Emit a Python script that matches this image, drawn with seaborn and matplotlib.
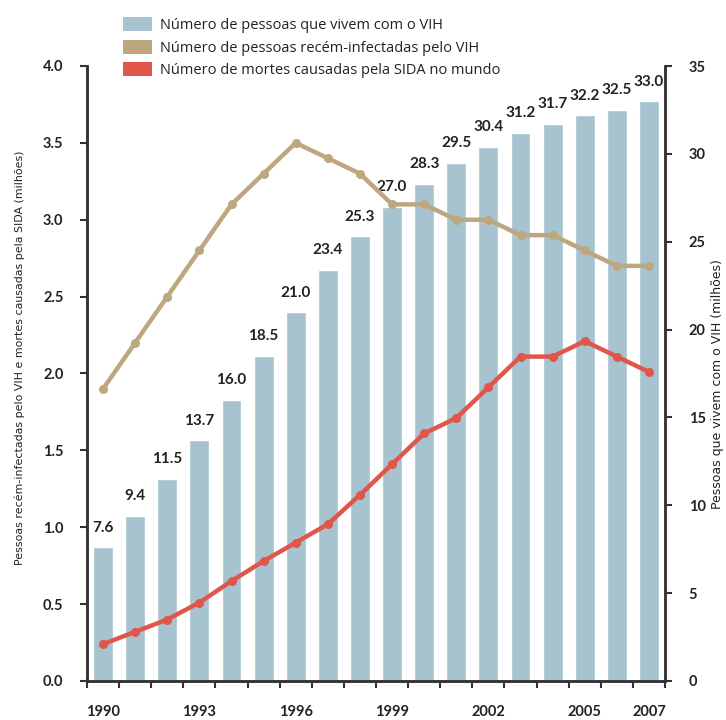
import numpy as np
import pandas as pd
import matplotlib
matplotlib.use("Agg")
import matplotlib.pyplot as plt
from matplotlib.patches import Patch
import seaborn as sns

# Data (millions)
years = [1990, 1991, 1992, 1993, 1994, 1995, 1996, 1997, 1998, 1999,
         2000, 2001, 2002, 2003, 2004, 2005, 2006, 2007]
living_with_hiv = [7.6, 9.4, 11.5, 13.7, 16.0, 18.5, 21.0, 23.4, 25.3, 27.0,
                   28.3, 29.5, 30.4, 31.2, 31.7, 32.2, 32.5, 33.0]
new_infections = [1.9, 2.2, 2.5, 2.8, 3.1, 3.3, 3.5, 3.4, 3.3, 3.1,
                  3.1, 3.0, 3.0, 2.9, 2.9, 2.8, 2.7, 2.7]
aids_deaths = [0.24, 0.32, 0.40, 0.51, 0.65, 0.78, 0.90, 1.02, 1.21, 1.41,
               1.61, 1.71, 1.91, 2.11, 2.11, 2.21, 2.11, 2.01]
year_labels = [1990, 1993, 1996, 1999, 2002, 2005, 2007]

legend_labels = ["Número de pessoas que vivem com o VIH",
                 "Número de pessoas recém-infectadas pelo VIH",
                 "Número de mortes causadas pela SIDA no mundo"]
left_label = "Pessoas recém-infectadas pelo VIH e mortes causadas pela SIDA (milhões)"
right_label = "Pessoas que vivem com o VIH (milhões)"

BLUE = "#a6c3cf"
TAN = "#bca77f"
RED = "#e0564a"
INK = "#222222"
SPINE = "#333333"

sns.set_theme(style="white")
plt.rcParams["font.family"] = ["Lato", "DejaVu Sans"]

df = pd.DataFrame({"year": years, "living": living_with_hiv,
                   "new": new_infections, "deaths": aids_deaths})

fig = plt.figure(figsize=(7.26, 7.2), dpi=100)
ax = fig.add_axes([87 / 726, 1 - 681 / 720, (665 - 87) / 726, (681 - 66) / 720])
ax2 = ax.twinx()

# Bars on the bottom axes, scale shown on the right
sns.barplot(data=df, x="year", y="living", native_scale=True, color=BLUE,
            width=0.62, saturation=1, ax=ax, zorder=1)
ax.set_ylim(0, 35)
ax.set_yticks(np.arange(0, 36, 5))
ax.bar_label(ax.containers[0], labels=[f"{v:.1f}" for v in living_with_hiv],
             padding=9, fontsize=11, fontweight="bold", color=INK)

# Lines on the twin axes, scale shown on the left
sns.lineplot(data=df, x="year", y="new", color=TAN, lw=3.2, marker="o",
             markersize=6.5, markeredgewidth=0, ax=ax2)
sns.lineplot(data=df, x="year", y="deaths", color=RED, lw=3.2, marker="o",
             markersize=6.5, markeredgewidth=0, ax=ax2)
ax2.set_ylim(0, 4.0)
ax2.set_yticks(np.arange(0, 4.01, 0.5))
ax2.set_yticklabels([f"{v:.1f}" for v in np.arange(0, 4.01, 0.5)])

# Swap sides: bar scale on the right, line scale on the left
ax.yaxis.tick_right()
ax2.yaxis.tick_left()

for a in (ax, ax2):
    a.set_xlim(years[0] - 0.5, years[-1] + 0.5)
    a.set_xlabel("")
    a.set_ylabel("")
    a.grid(False)
    for s in a.spines.values():
        s.set_color(SPINE)
        s.set_linewidth(1.8)
    a.spines["top"].set_visible(False)

# Category boundary ticks with labels centred on selected years
ax.set_xticks(np.arange(years[0] - 0.5, years[-1] + 0.51, 1.0))
ax.set_xticklabels([])
ax.set_xticks(year_labels, minor=True)
ax.set_xticklabels([str(y) for y in year_labels], minor=True)
ax.tick_params(axis="x", which="major", direction="out", length=5, width=1.5,
               color=SPINE, bottom=True)
ax.tick_params(axis="x", which="minor", length=0, pad=17,
               labelsize=10.5, labelcolor=INK)
for t in ax.get_xticklabels(minor=True):
    t.set_fontweight("bold")
ax2.tick_params(axis="x", which="both", bottom=False, labelbottom=False)

ax.tick_params(axis="y", direction="out", length=5, width=1.5, color=SPINE,
               right=True, left=False, labelright=True, labelleft=False,
               pad=12, labelsize=10.5, labelcolor=INK)
ax2.tick_params(axis="y", direction="out", length=5, width=1.5, color=SPINE,
                left=True, right=False, labelleft=True, labelright=False,
                pad=12, labelsize=10.5, labelcolor=INK)
for t in ax.get_yticklabels() + ax2.get_yticklabels():
    t.set_fontweight("bold")

# Axis titles
narrow = ["DejaVu Sans Condensed", "Liberation Sans Narrow", "DejaVu Sans"]
fig.text(20 / 726, 1 - 358 / 720, left_label, rotation=90, ha="center",
         va="center", fontsize=7.9, family=narrow, color=INK)
fig.text(718 / 726, 1 - 384 / 720, right_label, rotation=90, ha="center",
         va="center", fontsize=9.0, family=narrow, color=INK)

# Legend
handles = [Patch(facecolor=BLUE, edgecolor="none"),
           Patch(facecolor=TAN, edgecolor="none"),
           Patch(facecolor=RED, edgecolor="none")]
fig.legend(handles, legend_labels, loc="upper left",
           bbox_to_anchor=(110 / 726, 1 - 4 / 720), frameon=False,
           prop={"family": ["Open Sans", "DejaVu Sans"], "size": 10.5},
           handlelength=2.0, handleheight=1.1,
           labelspacing=0.45, handletextpad=0.55, labelcolor=INK)

fig.savefig("out.png", dpi=100)
